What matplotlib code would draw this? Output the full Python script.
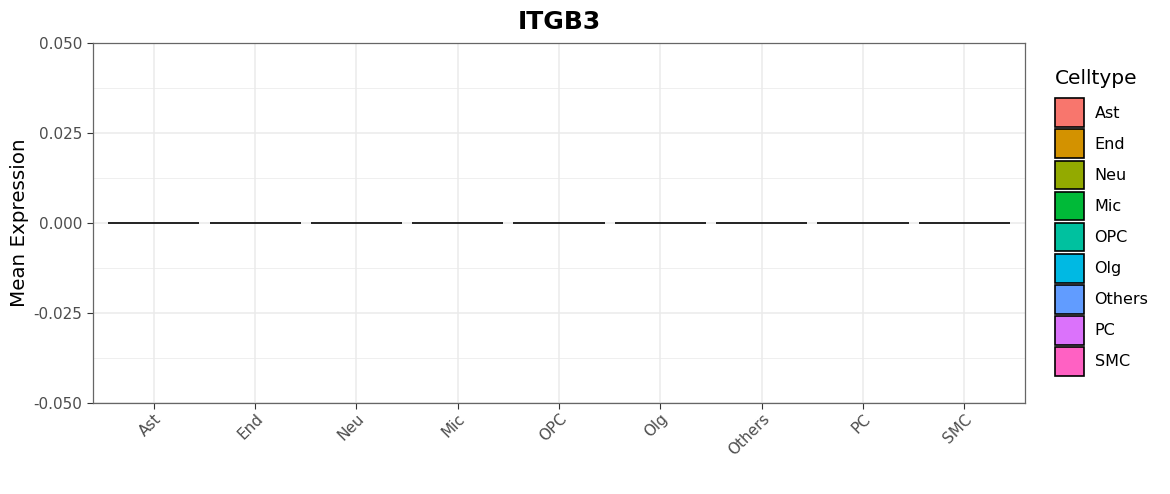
import matplotlib.pyplot as plt
from matplotlib.patches import Patch
import numpy as np

# data
celltypes = ['Ast', 'End', 'Neu', 'Mic', 'OPC', 'Olg', 'Others', 'PC', 'SMC']
mean_expr = [0, 0, 0, 0, 0, 0, 0, 0, 0]
colors = ['#F8766D', '#D39200', '#93AA00', '#00BA38', '#00C19F',
          '#00B9E3', '#619CFF', '#DB72FB', '#FF61C3']
yticks = [-0.050, -0.025, 0.000, 0.025, 0.050]

fig = plt.figure(figsize=(11.7, 4.94), dpi=100)
ax = fig.add_axes([93 / 1170, 1 - 403 / 494, (1025 - 93) / 1170, (403 - 43) / 494])

x = np.arange(len(celltypes))
ax.bar(x, mean_expr, width=0.9, color=colors, edgecolor='black', linewidth=1.2, zorder=3)

ax.set_xlim(-0.6, len(celltypes) - 0.4)
ax.set_ylim(-0.05, 0.05)
ax.set_yticks(yticks)
ax.set_yticklabels(['%.3f' % v for v in yticks])
ax.set_yticks([-0.0375, -0.0125, 0.0125, 0.0375], minor=True)
ax.set_xticks(x)
ax.set_xticklabels(celltypes, rotation=45, ha='right', rotation_mode='anchor')

# theme_bw look
ax.grid(which='major', color='#EBEBEB', linewidth=1.1, zorder=0)
ax.grid(which='minor', axis='y', color='#EBEBEB', linewidth=0.55, zorder=0)
ax.set_axisbelow(True)
for s in ax.spines.values():
    s.set_color('#666666')
    s.set_linewidth(0.9)
ax.tick_params(which='major', length=4, color='#333333', labelcolor='#4D4D4D', labelsize=11)
ax.tick_params(which='minor', length=0)
ax.tick_params(axis='x', pad=2)

ax.set_ylabel('Mean Expression', fontsize=14.3, labelpad=3.5)
ax.set_title('ITGB3', fontsize=18, fontweight='bold', pad=10)

# legend: title drawn separately to get ggplot spacing
fig.text(1055 / 1170, 1 - 78 / 494, 'Celltype', fontsize=14.5, va='center', ha='left')
handles = [Patch(facecolor=c, edgecolor='black', linewidth=1.2) for c in colors]
leg = fig.legend(handles, celltypes, loc='upper left', bbox_to_anchor=(1049 / 1170, 1 - 92 / 494),
                 frameon=False, fontsize=11.5,
                 handlelength=1.8, handleheight=2.4, labelspacing=0.14, handletextpad=0.65,
                 borderaxespad=0)

fig.savefig('out.png', dpi=100)
